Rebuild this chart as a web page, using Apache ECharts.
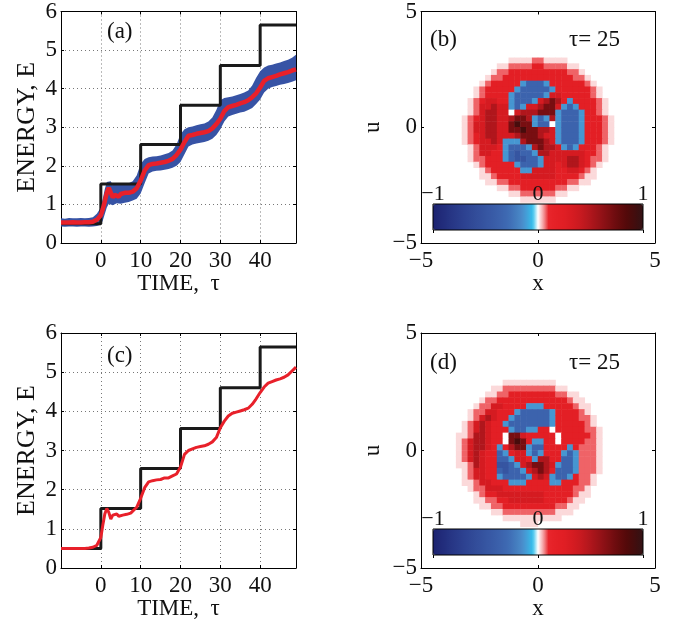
<!DOCTYPE html>
<html>
<head>
<meta charset="utf-8">
<script src="https://cdn.jsdelivr.net/npm/echarts@6/dist/echarts.min.js"></script>
<style>
html,body{margin:0;padding:0;background:#fff;}
#main{width:684px;height:627px;}
</style>
</head>
<body>
<div id="main"></div>
<script>
// time samples shared by the energy curves
var tau = [-10,-9,-8,-7,-6,-5,-4,-3,-2,-1,
  0,0.5,1,1.5,2,2.5,3,3.5,4,4.5,5,5.5,6,6.5,7,7.5,8,
  9,10,11,12,13,14,15,16,17,18,19,20,21,22,23,24,25,26,27,28,29,30,
  31,32,33,34,35,36,37,38,39,40,41,42,43,44,45,46,47,48,49];

// panel (a): mean energy (red) and spread of the ensemble (blue)
var meanA = [0.53,0.53,0.53,0.54,0.53,0.53,0.54,0.54,0.55,0.6,
  0.72,0.88,1.08,1.3,1.43,1.38,1.18,1.25,1.3,1.2,1.27,1.22,1.3,1.25,1.3,1.28,1.33,
  1.42,1.62,1.88,2.02,2.05,2.06,2.08,2.1,2.13,2.18,2.28,2.42,2.62,2.78,2.8,2.83,2.85,2.87,2.9,2.97,3.08,3.22,
  3.42,3.52,3.55,3.58,3.62,3.65,3.7,3.78,3.88,4.03,4.2,4.27,4.3,4.33,4.37,4.4,4.43,4.47,4.5];
var hiA = [0.64,0.63,0.65,0.64,0.64,0.65,0.64,0.65,0.67,0.76,
  0.92,1.15,1.4,1.58,1.62,1.6,1.5,1.52,1.55,1.5,1.52,1.5,1.53,1.52,1.55,1.55,1.6,
  1.75,2.05,2.18,2.22,2.24,2.25,2.27,2.3,2.33,2.4,2.55,2.82,2.95,3.0,3.02,3.05,3.08,3.1,3.15,3.25,3.45,3.7,
  3.76,3.78,3.8,3.83,3.86,3.9,3.95,4.08,4.28,4.45,4.55,4.6,4.62,4.65,4.68,4.72,4.75,4.8,4.88];
var loA = [0.43,0.42,0.43,0.43,0.42,0.43,0.43,0.42,0.43,0.44,
  0.47,0.58,0.75,0.92,1.02,1.02,0.98,1.0,1.03,1.0,1.02,1.0,1.04,1.05,1.06,1.07,1.1,
  1.15,1.28,1.55,1.8,1.85,1.87,1.88,1.9,1.92,1.95,2.0,2.1,2.3,2.5,2.55,2.58,2.6,2.62,2.65,2.7,2.8,2.95,
  3.15,3.28,3.32,3.35,3.38,3.4,3.45,3.5,3.6,3.72,3.9,4.0,4.04,4.07,4.1,4.12,4.15,4.18,4.22];

// panel (c): single trajectory
var meanC = [0.5,0.5,0.5,0.5,0.5,0.5,0.5,0.51,0.53,0.58,
  0.78,1.1,1.38,1.52,1.42,1.25,1.35,1.3,1.38,1.32,1.37,1.35,1.4,1.37,1.42,1.4,1.45,
  1.55,1.78,2.05,2.2,2.23,2.25,2.26,2.3,2.3,2.35,2.4,2.58,2.9,3.0,3.04,3.08,3.1,3.12,3.16,3.22,3.33,3.58,
  3.75,3.88,3.95,3.98,4.01,4.04,4.08,4.18,4.32,4.48,4.62,4.72,4.76,4.8,4.83,4.87,4.93,5.03,5.13];

// black staircase (energy levels)
var stepTau = [-10,0,10,20,30,40,49];
var stepA = [0.5,1.53,2.55,3.57,4.6,5.65,5.65];
var stepC = [0.5,1.52,2.54,3.56,4.6,5.64,5.64];

// phase-space snapshots, 0.25 cells, x from -3.5 to 3.5 (left->right), u from 3.5 to -3.5 (top->bottom)
var level = {'1':0.02,'2':0.075,r:0.2,s:0.33,m:0.5,d:0.7,k:0.9,w:0,c:-0.13,b:-0.35,B:-0.5};
var fieldB = [
'............................',
'............................',
'.........1111221111.........',
'.......112222rr222211.......',
'......122rrrrrrrrrr221......',
'.....122rrrrrrrrrrrr221.....',
'....12rrrrrcbbbcrrrrrr21....',
'...12rrrrrcbbbbbcrrrrrr21...',
'...12rrrrcbbbbbcssrrrrr21...',
'..12rssrrcbbbcsmdmrcrrrr21..',
'..12ssmsscbcssmddscbcrrr21..',
'..12smmsswsmmmdddcbbbcrr21..',
'.12rsmmssmddmcbcmcbbbcrrr21.',
'.12ssmmssdkddcbbwcbbbcrrr21.',
'.12ssmmssddkddmmscbbbcrrr21.',
'.12rsmmsssmdddmsscbbbcrrr21.',
'.12rssmscccmdddmscbbbcrrr21.',
'..12sssrcbbbcmdmmscbcrrr21..',
'..12ssrrcbBbbcmmssssssrr21..',
'..122rrrcbBBbbcssssmmsr221..',
'...12rrrrrcbbbcssrsmmsr21...',
'....12rrrrrccssssrrssr21....',
'....112rrrrssssssrrrr211....',
'.....1122rrrrrrrrrr2211.....',
'.......1122rrrrrr2211.......',
'.........1122222211.........',
'...........111111...........',
'............................'
];
var fieldD = [
'............................',
'............................',
'........111111111...........',
'......1122222222211.........',
'.....1122rrrrrrrr2211.......',
'....122rrrrrrrrrrrr211......',
'...122ssrrrrcccrrrrr211.....',
'..122ssrrrcbbbbbcrrrr21.....',
'..12smsrrcbbbbbbcrrrr221....',
'.12smsrrcbbbbbbbcrrrrr21....',
'.12smsrrrcbbccrrwrrrrr221...',
'112mmsrrwddsrrrrrwrrrrr21...',
'12smmsrrwdkdrccrrwrrrr221...',
'12smmsrcrmddcbbrrrrcr2221...',
'12smsrrbcrsscbcrrrcbc2221...',
'12smsrrbbcssrcmmrrbbc2221...',
'112msrrBBbcsmddmscbbc2221...',
'.12ssrrbBbbcsmdmrbbbc2221...',
'.12ssrrcbbbbcsmscbbcr221....',
'.112ssrrrcccrrrrccrrr221....',
'..122sssrrrrrrrrrrrr221.....',
'...12rrssssssssrrrrr211.....',
'...1122rrssssssrrrr211......',
'....1122rrrrrrrrr2211.......',
'......11222222222111........',
'........1111111111..........',
'...........111..............',
'............................'
];

// colour scale from -1 to 1 in steps of 0.05
var cmap = ['#1c2270','#1f2876','#222d7c','#253382','#283887','#2a3d8c','#2d4291','#2f4795','#324c99','#34509d',
  '#3655a1','#3859a5','#3a5ea9','#3c63ad','#3e69b2','#4172b8','#457fc0','#4a8ccb','#41a4db','#35c0ec',
  '#ffffff','#f5a0a2','#e8262c','#e52127','#e31f25','#e01e24','#da1c22','#d21b21','#c91a20','#bd181e',
  '#b0161c','#a2141a','#941217','#861014','#780e11','#6a0c0e','#5e0a0b','#52090a','#470c0c','#3c0f10','#331315'];

var FONT = "'Liberation Serif','Times New Roman',serif";

function pairs(xs, ys) {
  var out = [];
  for (var i = 0; i < xs.length; i++) out.push([xs[i], ys[i]]);
  return out;
}
// value first, time second (stacking works on the first column)
function columns(ys) {
  var out = [];
  for (var i = 0; i < tau.length; i++) out.push([ys[i], tau[i]]);
  return out;
}
function spread(hi, lo) {
  var out = [];
  for (var i = 0; i < tau.length; i++) out.push([+(hi[i] - lo[i]).toFixed(3), tau[i]]);
  return out;
}
function cells(rows) {
  var out = [];
  rows.forEach(function (row, r) {
    for (var c = 0; c < row.length; c++) {
      var ch = row.charAt(c);
      if (ch === '.') continue;
      out.push([c + 6, 33 - r, level[ch]]);
    }
  });
  return out;
}
var cats = [];
for (var i = 0; i < 40; i++) cats.push(String(i));

function minus(v) { return String(v).replace('-', '\u2212'); }
function tauFmt(v) { return (v >= 0 && v <= 40) ? String(v) : ''; }

function mainAxis(grid, pos, min, max, step, name, gap, fmt, dotted, nameSize) {
  return {
    type: 'value', gridIndex: grid, position: pos, min: min, max: max, interval: step,
    name: name, nameLocation: 'middle', nameGap: gap, nameRotate: (pos === 'left') ? 90 : 0,
    nameTextStyle: {fontFamily: FONT, fontSize: nameSize || 23, color: '#111'},
    axisLine: {show: true, onZero: false, lineStyle: {color: '#000', width: 1}},
    axisTick: {show: true, inside: true, length: 3, lineStyle: {color: '#000'}},
    axisLabel: {fontFamily: FONT, fontSize: 23, color: '#111', margin: (pos === 'left') ? 4 : 6, formatter: fmt},
    splitLine: {show: dotted, lineStyle: {color: '#777', width: 1, type: [1, 3]}}
  };
}
function mirrorAxis(grid, pos, min, max, step) {
  return {
    type: 'value', gridIndex: grid, position: pos, min: min, max: max, interval: step,
    axisLine: {show: true, onZero: false, lineStyle: {color: '#000', width: 1}},
    axisTick: {show: true, inside: true, length: 3, lineStyle: {color: '#000'}},
    axisLabel: {show: false}, splitLine: {show: false}
  };
}
function barAxis(grid) {
  return {
    type: 'value', gridIndex: grid, position: 'top', min: -1, max: 1, interval: 1, z: 10,
    axisLine: {show: false},
    axisTick: {show: true, inside: true, length: 3, lineStyle: {color: '#000'}},
    axisLabel: {fontFamily: FONT, fontSize: 22, color: '#111', margin: -1, formatter: minus},
    splitLine: {show: false}
  };
}

var chart = echarts.init(document.getElementById('main'));
var option = {
  animation: false,
  backgroundColor: '#fff',
  title: [
    {text: '(a)', left: 107, top: 20},
    {text: '(b)', left: 430, top: 28},
    {text: '\u03c4= 25', left: 569, top: 28},
    {text: '(c)', left: 107, top: 344},
    {text: '(d)', left: 430, top: 351},
    {text: '\u03c4= 25', left: 569, top: 351}
  ].map(function (t) {
    t.padding = 0;
    t.textStyle = {fontFamily: FONT, fontSize: 23, fontWeight: 'normal', color: '#111'};
    return t;
  }),
  grid: [
    {left: 61, top: 8, width: 235, height: 235},
    {left: 421, top: 8, width: 234, height: 235},
    {left: 61, top: 333, width: 235, height: 235},
    {left: 421, top: 333, width: 234, height: 235},
    {left: 433, top: 204, width: 210, height: 26, show: true, borderColor: '#000', borderWidth: 1, z: 10},
    {left: 433, top: 529, width: 210, height: 26, show: true, borderColor: '#000', borderWidth: 1, z: 10}
  ],
  xAxis: [
    mainAxis(0, 'bottom', -10, 49, 10, 'TIME,  \u03c4', 24, tauFmt, true),
    mirrorAxis(0, 'top', -10, 49, 10),
    mainAxis(1, 'bottom', -5, 5, 5, 'x', 24, minus, false),
    mirrorAxis(1, 'top', -5, 5, 5),
    {type: 'category', gridIndex: 1, data: cats, show: false},
    mainAxis(2, 'bottom', -10, 49, 10, 'TIME,  \u03c4', 24, tauFmt, true),
    mirrorAxis(2, 'top', -10, 49, 10),
    mainAxis(3, 'bottom', -5, 5, 5, 'x', 24, minus, false),
    mirrorAxis(3, 'top', -5, 5, 5),
    {type: 'category', gridIndex: 3, data: cats, show: false},
    barAxis(4),
    barAxis(5)
  ],
  yAxis: [
    mainAxis(0, 'left', 0, 6, 1, 'ENERGY, E', 21, null, true, 26),
    mirrorAxis(0, 'right', 0, 6, 1),
    mainAxis(1, 'left', -5, 5, 5, 'u', 37, minus, false),
    mirrorAxis(1, 'right', -5, 5, 5),
    {type: 'category', gridIndex: 1, data: cats, show: false},
    mainAxis(2, 'left', 0, 6, 1, 'ENERGY, E', 21, null, true, 26),
    mirrorAxis(2, 'right', 0, 6, 1),
    mainAxis(3, 'left', -5, 5, 5, 'u', 37, minus, false),
    mirrorAxis(3, 'right', -5, 5, 5),
    {type: 'category', gridIndex: 3, data: cats, show: false},
    {type: 'value', gridIndex: 4, show: false},
    {type: 'value', gridIndex: 5, show: false}
  ],
  visualMap: [
    {type: 'continuous', min: -1, max: 1, orient: 'horizontal', left: 433, top: 204, padding: 0,
     itemWidth: 26, itemHeight: 210, calculable: false, hoverLink: false, seriesIndex: 4, inRange: {color: cmap}},
    {type: 'continuous', min: -1, max: 1, orient: 'horizontal', left: 433, top: 529, padding: 0,
     itemWidth: 26, itemHeight: 210, calculable: false, hoverLink: false, seriesIndex: 7, inRange: {color: cmap}}
  ],
  series: [
    {type: 'line', xAxisIndex: 0, yAxisIndex: 0, step: 'end', symbol: 'none',
     data: pairs(stepTau, stepA), lineStyle: {color: '#1a1a1a', width: 3}},
    {type: 'line', xAxisIndex: 0, yAxisIndex: 0, stack: 'spread', symbol: 'none',
     encode: {x: 1, y: 0}, data: columns(loA), lineStyle: {opacity: 0}},
    {type: 'line', xAxisIndex: 0, yAxisIndex: 0, stack: 'spread', symbol: 'none',
     encode: {x: 1, y: 0}, data: spread(hiA, loA), lineStyle: {opacity: 0},
     areaStyle: {color: '#3753a5', opacity: 1}},
    {type: 'line', xAxisIndex: 0, yAxisIndex: 0, symbol: 'none',
     data: pairs(tau, meanA), lineStyle: {color: '#e8202a', width: 4.5}},
    {type: 'heatmap', xAxisIndex: 4, yAxisIndex: 4, data: cells(fieldB)},
    {type: 'line', xAxisIndex: 5, yAxisIndex: 5, step: 'end', symbol: 'none',
     data: pairs(stepTau, stepC), lineStyle: {color: '#1a1a1a', width: 3}},
    {type: 'line', xAxisIndex: 5, yAxisIndex: 5, symbol: 'none',
     data: pairs(tau, meanC), lineStyle: {color: '#e8202a', width: 3}},
    {type: 'heatmap', xAxisIndex: 9, yAxisIndex: 9, data: cells(fieldD)}
  ]
};
chart.setOption(option);
</script>
</body>
</html>
